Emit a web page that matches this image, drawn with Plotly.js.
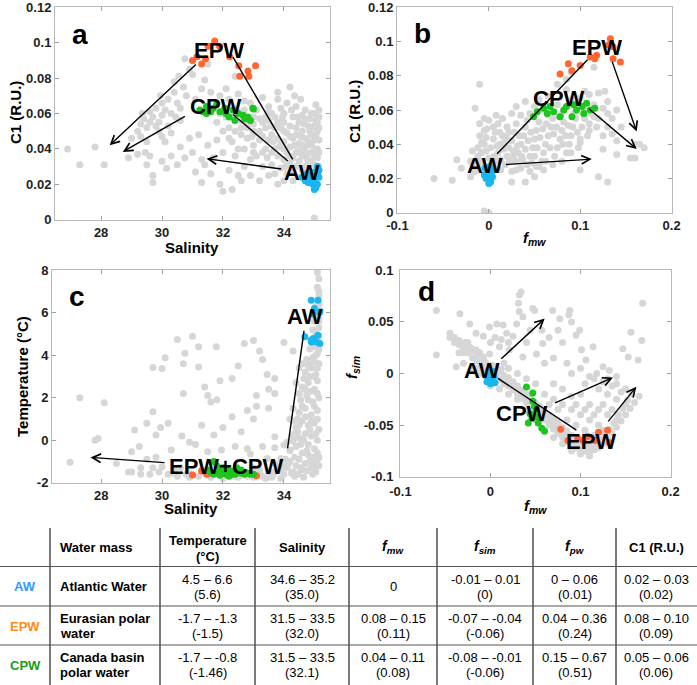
<!DOCTYPE html>
<html><head><meta charset="utf-8">
<script src="https://cdn.plot.ly/plotly-3.0.1.min.js"></script>
<style>html,body{margin:0;padding:0;background:#fff}#chart{width:697px;height:685px}</style>
</head><body><div id="chart"></div>
<script>
// ---------------- DATA ----------------
// Panel a: Salinity vs C1 (R.U.)
const aGray = [[26.9,0.040],[27.3,0.031],[27.8,0.041],[28.1,0.031],[28.9,0.035],[29.2,0.037],[29.45,0.038],[29.6,0.036],[29.7,0.025],[29.7,0.021],[29.5,0.031],[30.0,0.033],[30.3,0.036],[30.15,0.029],[30.5,0.031],[30.75,0.035],[31.0,0.038],[31.3,0.034],[31.1,0.027],[31.6,0.026],[31.9,0.020],[32.0,0.016],[32.3,0.017],[31.5,0.042],[30.9,0.046],[31.2,0.048],[31.8,0.045],[32.0,0.038],[31.4,0.031],[30.6,0.041],[31.7,0.035],[32.2,0.028],[32.5,0.025],[31.3,0.021],
[29.0,0.046],[29.2,0.050],[29.3,0.054],[29.4,0.057],[29.5,0.052],[29.6,0.055],[29.7,0.058],[29.6,0.061],[29.8,0.063],[29.9,0.055],[30.0,0.059],[30.0,0.066],[30.1,0.062],[30.2,0.068],[30.2,0.053],[30.3,0.060],[30.4,0.072],[30.5,0.066],[30.4,0.078],[30.6,0.063],[30.7,0.075],[30.8,0.070],[30.9,0.085],[30.75,0.091],[31.0,0.082],[31.1,0.068],[29.3,0.047],[29.9,0.050],[30.3,0.049],[29.5,0.044],[30.6,0.056],[31.3,0.074],[31.4,0.079],[30.1,0.044],[29.8,0.053],[30.0,0.047],[30.45,0.058],[29.35,0.060],[29.95,0.070],[30.55,0.081],
[31.6,0.072],[31.9,0.070],[32.1,0.074],[32.2,0.068],[32.5,0.071],[32.7,0.067],[32.9,0.066],[33.1,0.062],[33.3,0.069],[32.4,0.063],[31.8,0.066],[33.5,0.064],[33.8,0.072],[34.2,0.075],[33.0,0.058],[31.5,0.088],[32.4,0.081],[33.6,0.060],
[32.3,0.058],[32.6,0.056],[32.8,0.052],[33.0,0.054],[33.2,0.050],[33.4,0.052],[33.6,0.048],[33.5,0.056],[33.8,0.046],[33.9,0.052],[34.0,0.044],[34.1,0.049],[34.2,0.041],[34.3,0.046],[34.4,0.038],[34.5,0.043],[34.6,0.036],[34.7,0.041],[34.8,0.033],[34.9,0.038],[35.0,0.031],[35.1,0.035],[35.1,0.040],[35.0,0.045],[35.1,0.050],[35.1,0.055],[35.0,0.060],[35.15,0.062],[34.9,0.048],[34.8,0.053],[34.6,0.050],[34.5,0.055],[34.3,0.058],[34.0,0.060],[33.7,0.058],[33.9,0.063],[34.4,0.064],[34.7,0.062],[33.2,0.045],[33.0,0.042],[32.8,0.046],[32.6,0.048],[32.4,0.050],[32.2,0.052],[33.4,0.040],[33.6,0.038],[33.8,0.036],[34.0,0.034],[34.2,0.032],[34.4,0.030],[34.6,0.028],[33.1,0.036],[32.9,0.034],[32.5,0.040],[32.7,0.030],[33.3,0.030],[33.6,0.031],[33.9,0.029],[34.1,0.026],[33.5,0.025],[33.2,0.022],[33.8,0.020],[34.3,0.022],[32.6,0.022],[32.9,0.025],[34.0,0.040],[34.2,0.036],[34.5,0.033],[34.7,0.030],[34.9,0.027],[35.0,0.036],[34.9,0.042],[34.7,0.046],[34.4,0.048],[34.2,0.053],[34.0,0.055],[33.7,0.052],[33.3,0.047],[33.1,0.049],[32.9,0.057],[32.5,0.061],[33.0,0.038],[32.3,0.044],[32.0,0.050],[31.8,0.055],[32.1,0.058],[32.7,0.062],[35.15,0.045],[35.15,0.030],[35.05,0.056],[35.1,0.025],[34.95,0.052],[35.0,0.001],[34.85,0.057],[34.6,0.059],[35.15,0.038],[34.35,0.042],[34.55,0.047],[33.85,0.041],[33.45,0.035],[34.75,0.035],[34.05,0.030],[33.65,0.044],
[33.3,0.055],[33.5,0.045],[33.7,0.040],[33.9,0.044],[34.1,0.038],[34.3,0.035],[34.5,0.039],[34.7,0.038],[34.8,0.044],[34.6,0.042],[34.4,0.052],[34.2,0.047],[34.0,0.050],[33.8,0.055],[33.6,0.053],[33.4,0.058],[33.2,0.057],[33.0,0.050],[32.8,0.055],[32.6,0.052],[34.9,0.033],[35.05,0.040],[35.05,0.048],[35.15,0.052],[35.0,0.053],[34.85,0.050],[34.65,0.054],[34.45,0.058],[34.25,0.062],[34.1,0.066],[33.8,0.068],[34.55,0.068],[35.15,0.058],[35.05,0.065],[34.9,0.060],[34.3,0.027],[34.8,0.028],[34.5,0.024],[34.0,0.022],[33.7,0.026],[33.3,0.038],[32.7,0.040],[32.4,0.036],[32.2,0.046],[31.9,0.060],[34.35,0.070],[34.7,0.057],[33.5,0.061],[33.95,0.058],[32.95,0.047]];
const aEPW = [[31.0,0.090],[31.15,0.092],[31.3,0.088],[31.43,0.091],[31.51,0.098],[31.73,0.101],[31.89,0.098],[32.22,0.092],[32.52,0.087],[32.82,0.084],[32.85,0.081],[32.55,0.081],[33.07,0.087]];
const aCPW = [[31.24,0.062],[31.46,0.064],[31.68,0.063],[31.9,0.061],[32.1,0.060],[32.33,0.062],[32.5,0.060],[32.66,0.059],[32.82,0.058],[32.98,0.063],[32.39,0.056],[31.46,0.060],[31.79,0.065],[32.06,0.063],[32.72,0.057],[31.35,0.061],[31.6,0.061],[32.2,0.058],[32.9,0.056],[33.0,0.0625]];
const aAW = [[34.6,0.024],[34.7,0.022],[34.8,0.021],[34.9,0.025],[35.0,0.023],[35.1,0.026],[35.15,0.028],[35.1,0.020],[35.05,0.018],[35.0,0.017],[34.95,0.020],[35.15,0.024],[35.1,0.030],[35.0,0.027],[34.85,0.024],[34.75,0.026]];

// Panel b: f_mw vs C1 (R.U.)
const bGray = [[-0.06,0.020],[-0.035,0.031],[-0.04,0.019],[-0.03,0.026],[-0.02,0.021],[-0.01,0.075],[-0.015,0.061],[-0.005,0.001],[0.0,0.0],[0.1,0.025],[0.12,0.021],[0.13,0.018],[0.155,0.032],[0.16,0.032],[0.165,0.040],[0.17,0.038],[0.16,0.040],[0.13,0.065],[0.12,0.070],[0.127,0.071],[0.075,0.075],[0.085,0.078],[0.09,0.082],[0.115,0.085],[0.14,0.060],[0.145,0.050],[0.135,0.046],[0.14,0.042],[0.11,0.048],[0.1,0.041],[0.125,0.037],[0.14,0.034],[0.09,0.035],[0.08,0.030],[0.07,0.028],[0.06,0.025],[0.05,0.021],[0.04,0.018],[0.025,0.018],
[-0.01,0.030],[-0.008,0.035],[-0.005,0.040],[-0.01,0.045],[-0.005,0.048],[0.0,0.032],[0.002,0.038],[0.005,0.043],[0.008,0.030],[0.01,0.035],[0.012,0.040],[0.015,0.045],[0.018,0.028],[0.02,0.033],[0.022,0.038],[0.025,0.042],[0.028,0.047],[0.03,0.030],[0.032,0.035],[0.035,0.040],[0.038,0.045],[0.04,0.050],[0.042,0.028],[0.045,0.033],[0.048,0.038],[0.05,0.043],[0.052,0.048],[0.055,0.053],[0.058,0.030],[0.06,0.035],[0.062,0.040],[0.065,0.045],[0.068,0.050],[0.07,0.055],[0.072,0.033],[0.075,0.038],[0.078,0.043],[0.08,0.048],[0.082,0.053],[0.085,0.035],[0.088,0.040],[0.09,0.045],[0.092,0.050],[0.095,0.055],[0.098,0.038],[0.1,0.043],[0.102,0.050],[0.105,0.055],[0.108,0.045],[0.11,0.052],[0.115,0.056],[0.118,0.050],[0.12,0.055],[0.125,0.045],[0.13,0.050],[0.135,0.055],[0.013,0.025],[0.025,0.024],[0.035,0.026],[0.045,0.024],[0.055,0.027],[-0.015,0.028],[-0.02,0.030],[-0.012,0.038],[-0.018,0.036],[0.005,0.050],[0.01,0.052],[0.02,0.050],[0.03,0.052],[0.045,0.058],[0.035,0.057],[0.06,0.060],[0.065,0.057],[0.05,0.062],[0.055,0.066],[0.08,0.058],[0.09,0.066],[0.1,0.067],[0.11,0.069],[0.075,0.063],[0.105,0.071],[0.115,0.063],[0.125,0.061],[0.13,0.058],[0.015,0.055],[0.025,0.058],[0.0,0.054],[-0.005,0.055],[-0.01,0.052],[0.065,0.068],[0.085,0.072],[-0.003,0.044],[0.007,0.047],[0.017,0.041],[0.027,0.036],[0.037,0.031],[0.047,0.029],[-0.007,0.027],[0.006,0.026],
[-0.012,0.033],[-0.008,0.041],[-0.003,0.036],[0.003,0.029],[0.006,0.033],[0.009,0.039],[0.013,0.031],[0.016,0.037],[0.019,0.044],[0.023,0.030],[0.027,0.033],[0.031,0.039],[0.033,0.045],[0.036,0.033],[0.04,0.037],[0.043,0.042],[0.046,0.047],[0.05,0.033],[0.053,0.038],[0.056,0.044],[0.059,0.049],[0.063,0.052],[0.067,0.038],[0.071,0.046],[0.074,0.050],[0.077,0.056],[0.081,0.040],[0.084,0.045],[0.087,0.051],[0.093,0.058],[0.097,0.047],[0.104,0.060],[0.112,0.058],[0.062,0.030],[0.052,0.027],[0.03,0.025],[0.0,0.026],[-0.015,0.024],[0.042,0.054],[0.022,0.047],[0.012,0.047],[-0.002,0.049],[0.008,0.057],[0.03,0.062],[0.04,0.065]];
const bEPW = [[0.078,0.081],[0.087,0.087],[0.091,0.083],[0.100,0.086],[0.111,0.091],[0.118,0.092],[0.116,0.090],[0.133,0.1016],[0.136,0.097],[0.136,0.090],[0.144,0.088],[0.131,0.098]];
const bCPW = [[0.049,0.056],[0.053,0.059],[0.060,0.061],[0.067,0.062],[0.071,0.059],[0.078,0.056],[0.085,0.062],[0.093,0.063],[0.096,0.060],[0.102,0.062],[0.107,0.064],[0.111,0.060],[0.116,0.061],[0.091,0.056],[0.104,0.058],[0.064,0.058],[0.082,0.060]];
const bAW = [[0.0,0.022],[-0.003,0.020],[0.003,0.024],[-0.004,0.026],[0.002,0.018],[0.004,0.021],[-0.002,0.023],[0.001,0.027],[-0.005,0.022],[0.005,0.025],[0.0,0.017]];

// Panel c: Salinity vs Temperature (°C)
const cGray = [[27.3,2.0],[28.1,1.76],[27.9,0.08],[27.8,0.0],[26.98,-1.04],[28.5,-1.1],[29.0,-0.54],[29.1,0.48],[29.25,-0.3],[29.5,0.8],[29.7,1.34],[29.7,3.42],[30.0,3.38],[30.1,3.88],[30.5,4.74],[30.7,3.6],[30.75,4.1],[31.0,4.9],[31.2,4.4],[31.2,3.45],[31.4,2.5],[31.5,2.1],[31.6,1.8],[31.78,4.4],[31.8,1.9],[31.9,2.8],[32.3,2.9],[32.5,3.5],[32.7,4.55],[33.0,4.7],[33.2,4.2],[33.3,3.8],[33.45,3.1],[33.5,2.4],[33.7,2.9],[33.1,2.1],[33.1,1.6],[32.8,1.4],[33.5,1.5],[33.7,2.2],[33.0,1.0],[32.6,0.4],[32.3,1.1],[32.0,0.6],[31.7,0.25],[31.3,0.7],[31.1,-0.2],[30.9,-0.1],[30.65,0.2],[30.2,0.8],[29.95,0.6],[29.8,0.25],[30.7,2.2],[30.3,-0.46],[33.7,0.16],[34.0,-0.23],[33.3,-0.3],[32.8,-0.4],[32.4,-0.3],[31.95,-0.46],[31.5,-0.54],[29.8,-0.8],[29.5,-0.9],[29.3,-1.3],[29.0,-1.5],[29.7,-1.3],[30.0,-1.25],[30.4,-1.4],[30.9,-1.55],[31.3,-1.4],[32.4,-1.7],[33.2,-1.6],[33.7,-1.5],[33.9,-1.4],[33.7,-1.1],[33.45,-0.86],[32.9,-0.65],[33.9,-0.86],[34.2,-0.46],[33.7,-0.36],[34.0,4.6],[34.3,4.2],[34.5,3.4],
[30.2,-1.6],[30.5,-1.7],[30.8,-1.6],[31.2,-1.7],[31.6,-1.75],[32.0,-1.8],[32.5,-1.75],[33.0,-1.75],[33.3,-1.7],[33.6,-1.75],[33.9,-1.8],[29.9,-1.5],[30.6,-1.3],[29.6,-1.6],[28.9,-1.5],
[34.0,-1.6],[34.1,-1.3],[34.2,-1.0],[34.3,-1.5],[34.4,-1.2],[34.5,-0.9],[34.6,-1.4],[34.7,-1.1],[34.8,-0.7],[34.9,-1.3],[35.0,-1.0],[35.1,-0.6],[35.15,-1.2],[34.2,-0.5],[34.4,-0.3],[34.6,-0.6],[34.8,-0.2],[35.0,-0.4],[35.1,0.0],[34.5,0.1],[34.3,0.2],[34.7,0.3],[34.9,0.2],[35.15,-0.8],[34.05,-0.9],[33.95,-1.2],[34.35,-1.7],[34.65,-1.75],[34.95,-1.6],[35.05,-1.5],
[34.4,0.6],[34.6,0.9],[34.8,0.7],[35.0,0.8],[35.15,0.5],[34.5,1.3],[34.7,1.5],[34.9,1.2],[35.1,1.4],[34.55,1.9],[34.75,2.1],[34.95,1.8],[35.15,2.0],[34.6,2.5],[34.8,2.7],[35.0,2.4],[35.1,2.8],[34.7,3.2],[34.9,3.4],[35.05,3.1],[35.15,3.6],[34.75,3.8],[34.95,3.9],[35.1,4.1],[34.45,1.0],[34.35,0.3],[34.85,3.0],[35.0,3.7],[34.65,2.9],[34.5,2.2],[34.3,1.5],[34.2,1.0],[34.4,2.7],[34.6,3.6],
[34.85,4.3],[35.0,4.5],[35.15,4.3],[35.05,5.0],[35.15,5.3],[35.0,5.6],[35.15,5.8],[35.05,6.3],[35.15,6.8],[35.1,7.2],[35.15,7.6],[35.1,7.9],[34.95,5.2],[35.1,4.7],[35.2,6.1],
[34.25,-1.55],[34.45,-1.6],[34.55,-1.3],[34.75,-1.45],[34.85,-1.0],[35.05,-1.2],[35.1,-0.9],[34.95,-0.8],[34.75,-0.5],[34.55,-0.2],[34.35,-0.8],[34.15,-1.1],[34.65,0.0],[34.85,0.5],[35.05,0.3],[35.1,1.0],[34.9,0.9],[34.7,1.1],[34.6,1.6],[34.8,1.9],[35.0,1.6],[35.1,2.2],[34.9,2.3],[34.7,2.4],[35.0,3.0],[34.8,3.5],[35.1,3.4],[34.9,3.7],[35.05,4.0],[34.95,4.4],[35.15,4.9],[35.15,5.6],[35.0,5.9],[35.15,6.4],[35.15,7.0],[33.5,-1.5],[33.8,-1.3],[33.2,-1.4],[33.0,-1.3],[32.8,-1.7],[33.4,-1.8],[33.65,-1.6],[30.4,-1.55],[30.9,-1.75],[29.3,-1.6],[34.1,-0.1],[34.3,-0.05],[34.45,0.4],[34.5,0.7],[34.3,0.9]];
const cEPW = [[31.0,-1.64],[31.3,-1.45],[31.46,-1.6],[31.6,-1.55],[32.3,-1.62],[33.1,-1.67]];
const cCPW = [[31.7,-1.0],[31.8,-1.2],[31.9,-1.4],[32.0,-1.5],[32.1,-1.6],[32.2,-1.55],[32.3,-1.45],[32.4,-1.6],[32.5,-1.5],[32.6,-1.55],[32.7,-1.6],[32.8,-1.55],[32.9,-1.6],[31.6,-1.5],[31.7,-1.6],[31.5,-1.4],[32.0,-1.3],[32.2,-1.7],[31.9,-1.65],[32.45,-1.3],[31.8,-1.45],[32.15,-1.4],[32.6,-1.4],[33.0,-1.6]];
const cAW = [[34.9,6.59],[35.12,6.59],[35.18,6.04],[34.96,5.96],[34.69,4.87],[34.9,4.71],[34.96,4.79],[35.12,4.94],[35.18,4.55],[35.07,4.63],[34.9,4.63],[35.0,6.2]];

// Panel d: f_mw vs f_sim
const dGray = [[-0.06,0.061],[-0.06,0.018],[-0.045,0.039],[-0.038,0.032],[-0.034,0.058],[-0.038,0.0065],[-0.023,0.048],[-0.016,0.039],[-0.027,0.026],[-0.016,0.023],[-0.008,0.016],[-0.001,0.019],[-0.008,0.036],[-0.001,0.045],[0.007,0.048],[0.014,0.047],[0.018,0.039],[0.010,0.026],[0.021,0.023],[0.025,0.036],[0.029,0.048],[0.032,0.060],[0.031,0.068],[0.034,0.079],[0.032,0.076],[0.036,0.055],[0.047,0.063],[0.049,0.061],[0.044,0.042],[0.036,0.016],[0.051,0.019],[0.058,0.029],[0.057,0.042],[0.069,0.061],[0.077,0.053],[0.075,0.042],[0.088,0.061],[0.090,0.050],[0.087,0.057],[0.095,0.037],[0.101,0.023],[0.106,0.013],[0.114,0.026],[0.118,0.0],[0.125,0.0065],[0.132,0.003],[0.14,-0.003],[0.147,0.024],[0.153,0.016],[0.156,0.040],[0.164,0.013],[0.168,0.032],[0.169,0.068],[0.099,0.042],[0.11,-0.003],[0.0,0.030],[0.005,0.035],[0.012,0.033],[0.02,0.030],[0.04,0.030],[0.065,0.035],[0.08,0.030],[0.07,0.015],[0.06,0.010],[0.085,0.010],[0.09,0.0],[0.1,0.005],
[-0.045,0.035],[-0.04,0.030],[-0.035,0.028],[-0.03,0.025],[-0.03,0.020],[-0.025,0.020],[-0.02,0.015],[-0.02,0.022],[-0.015,0.012],[-0.015,0.018],[-0.01,0.008],[-0.01,0.014],[-0.005,0.004],[-0.005,0.010],[0.0,0.002],[0.005,-0.002],[0.005,0.006],[0.01,-0.006],[0.01,0.002],[0.015,-0.010],[0.015,-0.002],[0.02,-0.012],[0.02,-0.004],[0.025,-0.016],[0.025,-0.008],[0.03,-0.020],[0.03,-0.012],[0.035,-0.024],[0.035,-0.016],[0.04,-0.028],[0.04,-0.020],[0.045,-0.032],[0.045,-0.024],[0.05,-0.036],[0.05,-0.028],[0.055,-0.040],[0.055,-0.032],[0.06,-0.045],[0.06,-0.036],[0.065,-0.050],[0.065,-0.040],[0.07,-0.054],[0.07,-0.044],[0.075,-0.058],[0.075,-0.048],[0.08,-0.062],[0.08,-0.052],[0.085,-0.066],[0.085,-0.056],[0.09,-0.070],[0.09,-0.060],[0.095,-0.072],[0.1,-0.074],[0.1,-0.065],[0.105,-0.075],[0.11,-0.076],[0.11,-0.066],[0.115,-0.074],[0.12,-0.072],[0.125,-0.068],[0.13,-0.064],[0.135,-0.058],[0.14,-0.052],[0.145,-0.046],[0.15,-0.040],[0.155,-0.034],[0.16,-0.028],[0.165,-0.022],
[0.06,-0.020],[0.07,-0.025],[0.08,-0.030],[0.09,-0.035],[0.1,-0.040],[0.11,-0.045],[0.12,-0.050],[0.1,-0.020],[0.11,-0.030],[0.12,-0.035],[0.13,-0.040],[0.12,-0.015],[0.13,-0.020],[0.14,-0.025],[0.125,-0.008],[0.135,-0.012],[0.145,-0.018],[0.105,-0.010],[0.115,-0.005],[0.08,-0.015],[0.09,-0.022],[0.07,-0.010],[0.095,-0.050],[0.105,-0.055],[0.115,-0.060],[0.125,-0.055],[0.14,-0.045],[0.15,-0.030],[0.085,-0.045],[0.075,-0.035],[0.065,-0.030],[0.05,-0.010],[0.04,-0.005],[0.03,0.0],[0.02,0.005],[0.015,0.010],[-0.02,0.005],[-0.03,0.010],[-0.025,0.030],[-0.035,0.020],[-0.01,0.0],[-0.015,0.005],[0.0,-0.012],[0.01,-0.015],[0.02,-0.020],[0.03,-0.025],[0.04,-0.035],[0.05,-0.045],[0.06,-0.055],[0.07,-0.062],[0.08,-0.068],[0.09,-0.075],[0.1,-0.078],[0.11,-0.080],
[-0.04,0.035],[-0.035,0.032],[-0.028,0.030],[-0.022,0.025],[-0.012,0.020],[-0.007,0.012],[0.002,0.008],[0.007,0.0],[0.012,0.004],[0.017,-0.006],[0.022,-0.008],[0.027,-0.012],[0.032,-0.018],[0.037,-0.020],[0.042,-0.024],[0.047,-0.028],[0.052,-0.032],[0.057,-0.036],[0.062,-0.040],[0.067,-0.045],[0.072,-0.050],[0.077,-0.053],[0.082,-0.058],[0.087,-0.062],[0.092,-0.066],[0.097,-0.068],[0.102,-0.070],[0.107,-0.070],[0.112,-0.072],[0.117,-0.069],[0.122,-0.064],[0.127,-0.060],[0.132,-0.054],[0.137,-0.048],[0.142,-0.040],[0.147,-0.034],[0.152,-0.026],[0.157,-0.020],[0.095,-0.030],[0.105,-0.035],[0.115,-0.040],[0.125,-0.030],[0.135,-0.035],[0.13,-0.005],[0.14,-0.010],[0.15,-0.015]];
const dEPW = [[0.078,-0.054],[0.086,-0.065],[0.097,-0.063],[0.103,-0.065],[0.116,-0.065],[0.12,-0.057],[0.13,-0.055],[0.132,-0.067],[0.108,-0.061]];
const dCPW = [[0.04,-0.013],[0.047,-0.019],[0.047,-0.027],[0.049,-0.032],[0.044,-0.039],[0.042,-0.048],[0.051,-0.042],[0.053,-0.048],[0.057,-0.053],[0.06,-0.056],[0.051,-0.035],[0.046,-0.0435]];
const dAW = [[-0.005,-0.002],[-0.003,-0.006],[0.0,-0.004],[0.002,-0.008],[0.004,-0.003],[0.001,0.0],[-0.004,-0.008],[0.005,-0.009],[-0.002,0.003],[0.003,0.002],[0.0,-0.010]];

// Tick labels
const salTicks = [28,30,32,34], salTickText = ['28','30','32','34'];
const c1Ticks = [0,0.02,0.04,0.06,0.08,0.1,0.12], c1TickText = ['0','0.02','0.04','0.06','0.08','0.1','0.12'];
const fmwTicks = [-0.1,0,0.1,0.2], fmwTickText = ['-0.1','0','0.1','0.2'];
const tempTicks = [-2,0,2,4,6,8], tempTickText = ['-2','0','2','4','6','8'];
const fsimTicks = [-0.1,-0.05,0,0.05,0.1], fsimTickText = ['-0.1','-0.05','0','0.05','0.1'];

// Table
const tblAbbr = ['AW','EPW','CPW'];
const tblName = [['Atlantic Water'],['Eurasian polar','water'],['Canada basin','polar water']];
const tblTemp = [['4.5 – 6.6','(5.6)'],['-1.7 – -1.3','(-1.5)'],['-1.7 – -0.8','(-1.46)']];
const tblSal  = [['34.6 – 35.2','(35.0)'],['31.5 – 33.5','(32.0)'],['31.5 – 33.5','(32.1)']];
const tblFmw  = [['0'],['0.08 – 0.15','(0.11)'],['0.04 – 0.11','(0.08)']];
const tblFsim = [['-0.01 – 0.01','(0)'],['-0.07 – -0.04','(-0.06)'],['-0.08 – -0.01','(-0.06)']];
const tblFpw  = [['0 – 0.06','(0.01)'],['0.04 – 0.36','(0.24)'],['0.15 – 0.67','(0.51)']];
const tblC1   = [['0.02 – 0.03','(0.02)'],['0.08 – 0.10','(0.09)'],['0.05 – 0.06','(0.06)']];
const tblHead = ['Water mass', ['Temperature','(°C)'], 'Salinity', '<i>f</i><sub><i>mw</i></sub>', '<i>f</i><sub><i>sim</i></sub>', '<i>f</i><sub><i>pw</i></sub>', 'C1 (R.U.)'];

// ---------------- STYLE / LAYOUT ----------------
const F = 'Liberation Sans, Arial, Helvetica, sans-serif';
const W = 697, H = 685;
const PX = v => v / W, PY = v => 1 - v / H;
const GRAY = '#d6d6d6', COL_EPW = '#ff6633', COL_CPW = '#1dc41d', COL_AW = '#1ab6ef';
const MS = 7;

function pts(arr, ax, color) {
  return {type:'scatter', mode:'markers', x:arr.map(p=>p[0]), y:arr.map(p=>p[1]),
    xaxis:'x'+ax, yaxis:'y'+ax, marker:{size:MS, color:color, line:{width:0}}, hoverinfo:'skip', showlegend:false};
}
const data = [];
[[aGray,aEPW,aCPW,aAW,''],[bGray,bEPW,bCPW,bAW,'2'],[cGray,cEPW,cCPW,cAW,'3'],[dGray,dEPW,dCPW,dAW,'4']].forEach(s=>{
  data.push(pts(s[0], s[4], GRAY));
  data.push(pts(s[1], s[4], COL_EPW));
  data.push(pts(s[2], s[4], COL_CPW));
  data.push(pts(s[3], s[4], COL_AW));
});

function axis(domain, range, tv, tt) {
  const eps = (range[1]-range[0])*0.0015;
  return {domain:domain, range:[range[0]-eps, range[1]+eps], tickvals:tv, ticktext:tt.map(t=>'<b>'+t+'</b>'), showline:true, linecolor:'#b8b8b8', linewidth:1,
    mirror:'ticks', ticks:'inside', ticklen:4, tickcolor:'#a0a0a0', showgrid:false, zeroline:false, fixedrange:true,
    ticklabeloverflow:'allow', automargin:false,
    tickfont:{family:F, size:13, color:'#1e1e1e'}};
}

const layout = {
  width:W, height:H, margin:{l:0,r:0,t:0,b:0}, paper_bgcolor:'#fff', plot_bgcolor:'#fff', showlegend:false,
  xaxis:  axis([PX(55),PX(330)], [26.5,35.5], salTicks, salTickText),
  yaxis:  axis([PY(220),PY(7)], [0,0.12], c1Ticks, c1TickText),
  xaxis2: axis([PX(397),PX(672)], [-0.1,0.2], fmwTicks, fmwTickText),
  yaxis2: axis([PY(213),PY(7)], [0,0.12], c1Ticks, c1TickText),
  xaxis3: axis([PX(52),PX(330)], [26.4,35.5], salTicks, salTickText),
  yaxis3: axis([PY(483),PY(270)], [-2,8], tempTicks, tempTickText),
  xaxis4: axis([PX(400),PX(671)], [-0.1,0.2], fmwTicks, fmwTickText),
  yaxis4: axis([PY(477),PY(270)], [-0.1,0.1], fsimTicks, fsimTickText),
  annotations:[], shapes:[]
};
layout.xaxis.anchor='y'; layout.yaxis.anchor='x';
layout.xaxis2.anchor='y2'; layout.yaxis2.anchor='x2';
layout.xaxis3.anchor='y3'; layout.yaxis3.anchor='x3';
layout.xaxis4.anchor='y4'; layout.yaxis4.anchor='x4';
// keep the corner labels of panel d from colliding (both read "-0.1")
layout.xaxis4.ticklabelstandoff = 2;
layout.yaxis4.ticklabelstandoff = 3;

const A = layout.annotations, S = layout.shapes;
function label(ax, x, y, text, size) {
  A.push({xref:'x'+ax, yref:'y'+ax, x:x, y:y, text:'<b>'+text+'</b>', showarrow:false,
    xanchor:'center', yanchor:'middle', font:{family:F, size:size, color:'#000'}});
}
function arrow(ax, t) {
  A.push({xref:'x'+ax, yref:'y'+ax, axref:'x'+ax, ayref:'y'+ax, x:t[2], y:t[3], ax:t[0], ay:t[1], text:'',
    showarrow:true, arrowhead:5, arrowsize:1.2, arrowwidth:1.4, arrowcolor:'#000', standoff:0, startstandoff:0});
}
function seg(ax, t) {
  S.push({type:'line', xref:'x'+ax, yref:'y'+ax, x0:t[0], y0:t[1], x1:t[2], y1:t[3], line:{color:'#000', width:1.4}});
}
// panel a
label('', 27.32, 0.1044, 'a', 28);
label('', 31.86, 0.0958, 'EPW', 22);
label('', 31.76, 0.0637, 'CPW', 22);
label('', 34.6, 0.0265, 'AW', 22);
arrow('', [31.16,0.0885,28.28,0.042]);
arrow('', [30.80,0.0589,28.71,0.0383]);
arrow('', [33.96,0.0285,31.46,0.0345]);
seg('', [32.33,0.0919,34.29,0.0341]);
seg('', [32.33,0.0594,34.13,0.0332]);
// panel b
label('2', -0.0727, 0.1045, 'b', 28);
label('2', 0.118, 0.0964, 'EPW', 22);
label('2', 0.0767, 0.0668, 'CPW', 22);
label('2', -0.0047, 0.0277, 'AW', 22);
seg('2', [0.0091,0.0344,0.108,0.0894]);
arrow('2', [0.0171,0.0281,0.1127,0.0313]);
arrow('2', [0.108,0.0615,0.1618,0.0372]);
arrow('2', [0.1345,0.089,0.1618,0.0474]);
// panel c
label('3', 27.22, 6.78, 'c', 28);
label('3', 34.69, 5.84, 'AW', 22);
label('3', 32.1, -1.25, 'EPW+CPW', 22);
seg('3', [34.66,5.15,34.12,-0.385]);
arrow('3', [30.13,-1.06,27.65,-0.81]);
// panel d
label('4', -0.0708, 0.0797, 'd', 28);
label('4', -0.0093, 0.0026, 'AW', 22);
label('4', 0.0347, -0.0387, 'CPW', 22);
label('4', 0.112, -0.066, 'EPW', 22);
arrow('4', [0.0103,0.0129,0.0602,0.0532]);
seg('4', [0.0084,-0.0048,0.0954,-0.0548]);
arrow('4', [0.0702,-0.029,0.136,-0.0039]);
arrow('4', [0.1294,-0.0478,0.162,-0.0129]);

// axis titles
function ptxt(xp, yp, text, size, opts) {
  A.push(Object.assign({xref:'paper', yref:'paper', x:PX(xp), y:PY(yp), text:text, showarrow:false,
    xanchor:'center', yanchor:'middle', font:{family:F, size:size, color:'#000'}}, opts||{}));
}
ptxt(192, 247, '<b>Salinity</b>', 15);
ptxt(191, 508, '<b>Salinity</b>', 15);
ptxt(534, 239, '<b><i>f</i></b><sub><b><i>mw</i></b></sub>', 15);
ptxt(535, 506, '<b><i>f</i></b><sub><b><i>mw</i></b></sub>', 15);
ptxt(15, 113, '<b>C1 (R.U.)</b>', 15, {textangle:-90});
ptxt(355, 111, '<b>C1 (R.U.)</b>', 15, {textangle:-90});
ptxt(22, 377, '<b>Temperature (°C)</b>', 15, {textangle:-90});
ptxt(352, 368, '<b><i>f</i></b><sub><b><i>sim</i></b></sub>', 15, {textangle:-90});

// table
const colEdges = [50,160,255,349,437,533,616];
const colCenters = [207.5,302,393,485,574.5,656];
colEdges.forEach(x=>S.push({type:'line', xref:'paper', yref:'paper', x0:PX(x), x1:PX(x), y0:PY(528), y1:PY(685), line:{color:'#333', width:1.3}}));
[566.5,606,645].forEach(y=>S.push({type:'line', xref:'paper', yref:'paper', x0:0, x1:1, y0:PY(y), y1:PY(y), line:{color:'#555', width:1}}));
const TF = 13;
ptxt(58, 547, '<b>'+tblHead[0]+'</b>', TF, {xanchor:'left'});
ptxt(colCenters[0], 540, '<b>'+tblHead[1][0]+'</b>', TF);
ptxt(colCenters[0], 556, '<b>'+tblHead[1][1]+'</b>', TF);
for (let i=2;i<tblHead.length;i++) ptxt(colCenters[i-1], 547, '<b>'+tblHead[i]+'</b>', i>=3&&i<=5?14:TF);
const rowCenters = [586.5, 626, 665];
const abbrColors = [ '#3399ff', '#ff8c1a', '#1a9e1a'];
const cols = [tblTemp, tblSal, tblFmw, tblFsim, tblFpw, tblC1];
tblAbbr.forEach((ab, r)=>{
  const yc = rowCenters[r];
  ptxt(25, yc, '<b>'+ab+'</b>', TF, {font:{family:F, size:TF, color:abbrColors[r]}});
  const nm = tblName[r];
  if (nm.length===1) ptxt(58, yc, '<b>'+nm[0]+'</b>', TF, {xanchor:'left'});
  else { ptxt(58, yc-7.5, '<b>'+nm[0]+'</b>', TF, {xanchor:'left'}); ptxt(58, yc+7.5, '<b>'+nm[1]+'</b>', TF, {xanchor:'left'}); }
  cols.forEach((col, c)=>{
    const v = col[r];
    if (v.length===1) ptxt(colCenters[c], yc, v[0], TF);
    else { ptxt(colCenters[c], yc-7.5, v[0], TF); ptxt(colCenters[c], yc+7.5, v[1], TF); }
  });
});

Plotly.newPlot('chart', data, layout, {displayModeBar:false, staticPlot:true});
</script></body></html>
